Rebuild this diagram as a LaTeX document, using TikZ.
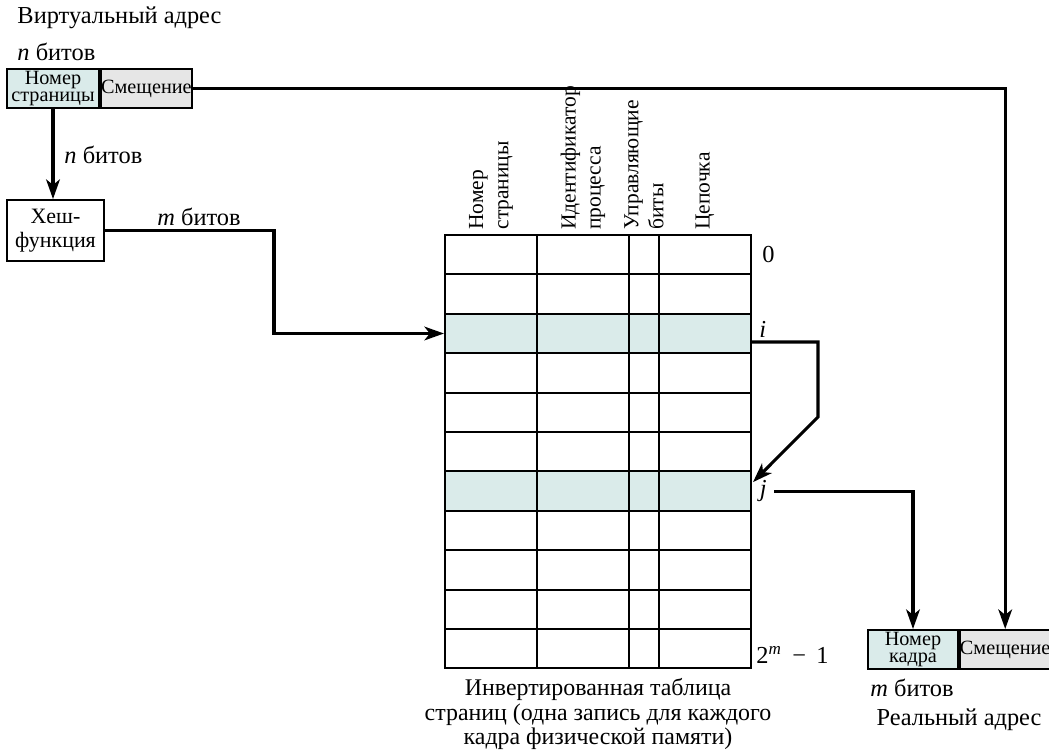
\documentclass[tikz,border=0pt]{standalone}
\usepackage{fontspec}
\setmainfont{Liberation Serif}
\usetikzlibrary{arrows.meta,positioning,calc}

\definecolor{pagefill}{RGB}{218,235,234}
\definecolor{offfill}{RGB}{230,230,230}

\begin{document}
\begin{tikzpicture}[
            x=0.41pt, y=-0.41pt,
            field/.style={draw, line width=0.8pt, inner sep=0pt, minimum height=16pt, font=\fontsize{8.3}{6.8}\selectfont, align=center},
            rowbox/.style={draw, line width=0.8pt, inner sep=0pt, minimum width=125.5pt, minimum height=16.15pt},
            colhead/.style={rotate=90, anchor=west, align=left, inner sep=0pt, font=\fontsize{8.8}{10.3}\selectfont},
            link/.style={line width=1.25pt},
            arr/.style={link, -{Stealth[length=8pt, width=5.6pt, inset=2.2pt]}}
        ]
            \useasboundingbox (0,0) rectangle (1049,752);

            % virtual address
            \node[anchor=west, inner sep=0pt] (vtitle) at (17,18) {Виртуальный адрес};
            \node[anchor=west, inner sep=0pt] (vbits) at (17,52) {\textit{n} битов};
            \node[field, fill=pagefill, minimum width=37.7pt] (vpage) at (53,88.5) {Номер\\страницы};
            \node[field, fill=offfill, minimum width=37.3pt, right=0pt of vpage] (voff) {Смещение};

            % hash function
            \node[field, fill=white, minimum width=39.8pt, minimum height=25pt, font=\fontsize{9}{10}\selectfont] (hash) at (55.5,230.5) {Хеш-\\функция};
            \node[anchor=west, inner sep=0pt] (nbits) at (64,155) {\textit{n} битов};
            \node[inner sep=0pt] (mbits) at (199,217) {\textit{m} битов};

            % inverted page table
            \foreach \r/\shade in {0/white,1/white,2/pagefill,3/white,4/white,5/white,6/pagefill,7/white,8/white,9/white,10/white}
                \node[rowbox, fill=\shade] (row\r) at (598,{254.7+39.4*\r}) {};
            \foreach \cx in {537,629,659}
                \draw[line width=0.8pt] (\cx,235) -- (\cx,668);

            \node[colhead] (hpage) at (491,230) {Номер\\страницы};
            \node[colhead] (hpid) at (583,230) {Идентификатор\\процесса};
            \node[colhead] (hctl) at (644,230) {Управляющие\\биты};
            \node[colhead] (hchain) at (705,230) {Цепочка};

            \node[anchor=west, inner sep=0pt] (l0) at ([xshift=4pt]row0.east) {0};
            \node[anchor=base west, inner sep=0pt] (li) at (759,338) {\textit{i}};
            \node[anchor=west, inner sep=0pt] (lj) at ([xshift=3pt]row6.east) {\textit{j}};
            \node[anchor=base west, inner sep=0pt] (lm) at (756,663) {2\textsuperscript{\textit{m}}\, − \,1};

            \node[align=center, inner sep=0pt, font=\fontsize{9.8}{10}\selectfont] (tcap) at (598,714) {Инвертированная таблица\\страниц (одна запись для каждого\\кадра физической памяти)};

            % real address
            \node[field, fill=pagefill, minimum width=36.9pt] (rframe) at (913,649.5) {Номер\\кадра};
            \node[field, fill=offfill, minimum width=36.9pt, right=0pt of rframe] (roff) {Смещение};
            \node[inner sep=0pt] (rbits) at (912,688) {\textit{m} битов};
            \node[inner sep=0pt] (rtitle) at (959,720) {Реальный адрес};

            \coordinate (hbend) at (274,300);
            \coordinate (ibend) at (818,417);

            \draw[arr] (vpage.south) -- (vpage.south |- hash.north);
            \draw[arr] (hash.east) -| (hbend) |- (row2.west);
            \draw[arr] ($(row2.east)+(0,8.5)$) -| (ibend) -- ($(row6.east)+(1,-9)$);
            \draw[arr] ([xshift=3pt]lj.east) -| (rframe.north);
            \draw[arr] (voff.east) -| (roff.north);
        \end{tikzpicture}
\end{document}
